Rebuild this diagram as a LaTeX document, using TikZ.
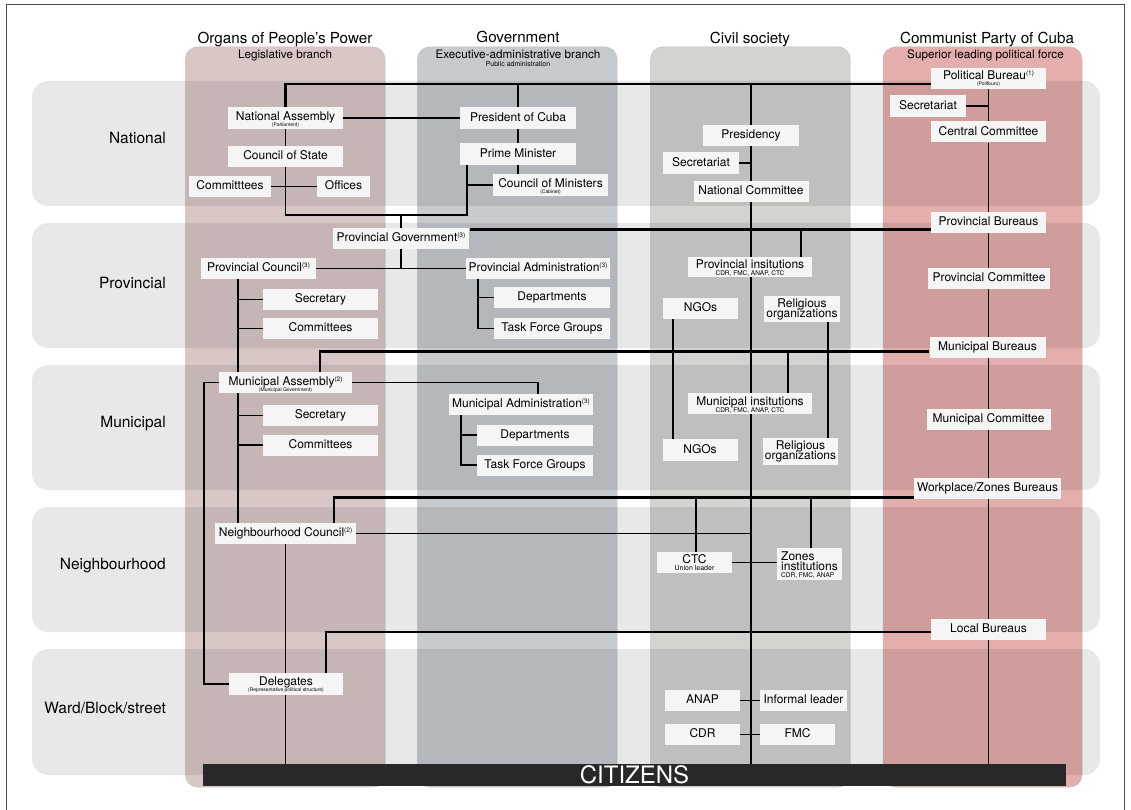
\documentclass[tikz,border=0pt]{standalone}
\usepackage{fontspec}
\setmainfont{TeX Gyre Heros}
\usetikzlibrary{calc}
\pgfdeclarelayer{back}
\pgfdeclarelayer{lines}
\pgfsetlayers{back,lines,main}
\definecolor{boxc}{HTML}{F5F5F5}
\definecolor{colA}{HTML}{D9C7C6}
\definecolor{colB}{HTML}{C6CBCF}
\definecolor{colC}{HTML}{D3D4D0}
\definecolor{colD}{HTML}{E4AEAC}
\definecolor{barc}{HTML}{282828}
\newcommand\nf{\fontsize{12}{12}\selectfont}
\newcommand\subt[1]{{\fontsize{5}{5}\selectfont #1}}
\newcommand\subm[1]{{\fontsize{6.5}{6.5}\selectfont #1}}
\newcommand\subc[1]{{\fontsize{7}{7}\selectfont #1}}
\newcommand\sups[1]{\raisebox{4.5pt}{\fontsize{6.5}{6.5}\selectfont(#1)}}
\begin{document}
\begin{tikzpicture}[x=1pt,y=-1pt,
 nb/.style 2 args={fill=boxc,inner sep=0pt,minimum width=#1,minimum height=#2,font=\nf,align=center,text height=9pt,text depth=2.5pt},
 nbb/.style 2 args={fill=boxc,inner sep=0pt,minimum width=#1,minimum height=#2,font=\nf,align=center},
 ln/.style={line width=1.2pt,black},
 thk/.style={line width=2.6pt,black},
 mid/.style={line width=2pt,black},
 hd/.style={font=\fontsize{15.2}{16}\selectfont,anchor=base,inner sep=0pt},
 sh/.style={font=\fontsize{11.7}{12}\selectfont,anchor=base,inner sep=0pt},
 rl/.style={font=\fontsize{15.5}{16}\selectfont,anchor=base east,inner sep=0pt},
 col/.style={draw=black!25,line width=0.5pt,rounded corners=12pt},
 band/.style={fill=black,fill opacity=0.09,rounded corners=16pt},
]
\useasboundingbox (0,0) rectangle (1131,810);
\draw[line width=1pt,black!70] (6,812) -- (6,5) -- (1124.5,5) -- (1124.5,812);

% headers
\node[hd] (h1) at (285,43.3) {Organs of People's Power};
\node[sh] (s1) at (285,59) {Legislative branch};
\node[hd] (h2) at (518,42.7) {Government};
\node[sh] (s2) at (518,59) {Executive-administrative branch};
\node[font=\fontsize{7}{7}\selectfont,anchor=base,inner sep=0pt] (s2b) at (518,66.5) {Public administration};
\node[hd] (h3) at (750,43.3) {Civil society};
\node[hd] (h4) at (987,43.3) {Communist Party of Cuba};
\node[sh] (s4) at (985.5,59) {Superior leading political force};

% row labels
\node[rl] (r1) at (166,143.5) {National};
\node[rl] (r2) at (166,288.5) {Provincial};
\node[rl] (r3) at (166,427.5) {Municipal};
\node[rl] (r4) at (166,569.5) {Neighbourhood};
\node[rl] (r5) at (166,713) {Ward/Block/street};

% national
\node[nbb={115pt}{22pt}] (na) at (285.5,118) {\rule{0pt}{12.5pt}National Assembly\\[-6.5pt]\subt{(Parliament)}};
\node[nb={115pt}{21pt}] (cos) at (285.5,156.5) {Council of State};
\node[nb={82pt}{21pt}] (comm) at (230,186.5) {Committtees};
\node[nb={53pt}{21pt}] (off) at (343.5,186.5) {Offices};
\node[nb={116pt}{22pt}] (pres) at (518,118) {President of Cuba};
\node[nb={116pt}{22pt}] (pm) at (518,154) {Prime Minister};
\node[nbb={115pt}{22pt}] (com) at (550.5,185) {\rule{0pt}{12pt}Council of Ministers\\[-6.5pt]\subt{(Cabinet)}};
\node[nb={96pt}{21pt}] (presid) at (751,135.5) {Presidency};
\node[nb={76pt}{22pt}] (csec) at (701,163) {Secretariat};
\node[nb={115pt}{21pt}] (ncom) at (751,191.5) {National Committee};
\node[nbb={115pt}{21pt}] (pb) at (988.5,78.5) {\rule{0pt}{10pt}Political Bureau\sups{1}\\[-6pt]\subt{(Politburo)}};
\node[nb={76pt}{22pt}] (psec) at (928,106) {Secretariat};
\node[nb={115pt}{21pt}] (cc) at (988.5,132) {Central Committee};

% provincial
\node[nb={115pt}{21pt}] (provb) at (988.5,222.5) {Provincial Bureaus};
\node[nb={136pt}{21pt}] (provgov) at (401,238.5) {Provincial Government\sups{3}};
\node[nb={115pt}{21pt}] (provc) at (258.5,268.5) {Provincial Council\sups{3}};
\node[nb={144pt}{21pt}] (provadm) at (538,268.5) {Provincial Administration\sups{3}};
\node[nb={115pt}{21pt}] (psecy) at (320.5,299.5) {Secretary};
\node[nb={115pt}{21pt}] (pcomm) at (320.5,328.5) {Committees};
\node[nb={116pt}{21pt}] (pdep) at (552,297.5) {Departments};
\node[nb={116pt}{21pt}] (ptfg) at (552,328.5) {Task Force Groups};
\node[nbb={124pt}{20pt}] (provinst) at (750,267) {\rule{0pt}{10.4pt}Provincial insitutions\\[-5.2pt]\subm{CDR, FMC, ANAP, CTC}};
\node[nb={75pt}{21pt}] (pngo) at (700.5,308.5) {NGOs};
\node[nbb={76pt}{26pt}] (prel) at (802,309) {\rule{0pt}{9.2pt}Religious\\[-2pt]organizations};
\node[nb={122pt}{21pt}] (provcom) at (989,278.5) {Provincial Committee};
\node[nb={116pt}{21pt}] (munb) at (987.5,347.5) {Municipal Bureaus};

% municipal
\node[nbb={133pt}{21pt}] (muna) at (285.5,382.5) {\rule{0pt}{13pt}Municipal Assembly\sups{2}\\[-6.5pt]\subt{(Municipal Government)}};
\node[nb={144pt}{21pt}] (munadm) at (521,404.5) {Municipal Administration\sups{3}};
\node[nb={116pt}{21pt}] (mdep) at (535,435) {Departments};
\node[nb={116pt}{21pt}] (mtfg) at (535,465) {Task Force Groups};
\node[nb={115pt}{21pt}] (msecy) at (320.5,415.5) {Secretary};
\node[nb={115pt}{21pt}] (mcomm) at (320.5,445) {Committees};
\node[nbb={124pt}{21pt}] (muninst) at (750,403.5) {\rule{0pt}{12.3pt}Municipal insitutions\\[-5.2pt]\subm{CDR, FMC, ANAP, CTC}};
\node[nb={75pt}{22pt}] (mngo) at (700,450) {NGOs};
\node[nbb={75pt}{27pt}] (mrel) at (800.5,451.5) {\rule{0pt}{9.2pt}Religious\\[-2pt]organizations};
\node[nb={124pt}{21pt}] (muncom) at (988.5,419) {Municipal Committee};
\node[nb={147pt}{21pt}] (wzb) at (987.5,488.5) {Workplace/Zones Bureaus};

% neighbourhood
\node[nb={141pt}{21pt}] (nc) at (285.5,533.5) {Neighbourhood Council\sups{2}};
\node[nbb={75pt}{21pt}] (ctc) at (694.5,562.5) {\rule{0pt}{9.2pt}CTC\\[-4.6pt]\subc{Union leader}};
\node[nbb={65pt}{32pt},align=left] (zones) at (809.5,564) {\rule{0pt}{10.7pt}Zones\\[-1.3pt]institutions\\[-5pt]\subm{CDR, FMC, ANAP}};
\node[nb={115pt}{21pt}] (locb) at (988.5,629) {Local Bureaus};

% ward
\node[nbb={114pt}{22pt}] (del) at (286,684) {\rule{0pt}{10.5pt}Delegates\\[-6pt]\subt{(Representative political structure)}};
\node[nb={75pt}{21pt}] (anap) at (702.5,700.5) {ANAP};
\node[nb={87pt}{21pt}] (inf) at (803.5,700.5) {Informal leader};
\node[nb={75pt}{21pt}] (cdr) at (702.5,734.5) {CDR};
\node[nb={75pt}{21pt}] (fmc) at (797.5,734.5) {FMC};

\node[fill=barc,minimum width=863pt,minimum height=22pt,inner sep=0pt,text=white,font=\fontsize{24}{24}\selectfont] (cit) at (634.5,775) {CITIZENS};

\begin{pgfonlayer}{back}
\draw[col,fill=colA] (185.5,47) rectangle (385,787);
\draw[col,fill=colB] (417.5,47) rectangle (617,787);
\draw[col,fill=colC] (650.5,47) rectangle (850,787);
\draw[col,fill=colD] (883,47) rectangle (1082,787);
\fill[band] (32,81) rectangle (1100,206);
\fill[band] (32,223) rectangle (1100,348);
\fill[band] (32,365) rectangle (1100,490);
\fill[band] (32,507) rectangle (1100,632);
\fill[band] (32,649) rectangle (1100,775);
\end{pgfonlayer}

\begin{pgfonlayer}{lines}
\coordinate (top) at (0,84);
\draw[thk] (na.north) |- (pb.west |- top);
\draw[thk] (pres.north) -- (pres.north |- top);
\draw[thk] (presid.north) -- (presid.north |- top);
\draw[ln] (na.east) -- (pres.west);
\draw[ln] (na.south) -- (cos.north);
\draw[ln] (comm.east) -- (off.west);
\coordinate (gv) at (467,215);
\draw[ln] (cos.south) |- (gv) -- (gv |- pm.south);
\draw[ln] (gv |- com.west) -- (com.west);
\draw[ln] (pres.south) -- (pm.north);
\draw[ln] (pm.south) -- (pm.south |- com.north);
\draw[ln] (provgov.north) -- (provgov.north |- gv);
\draw[ln] (presid.south) -- (ncom.north);
\draw[ln] (csec.east) -- (csec.east -| presid.south);
\draw[ln] (ncom.south) -- (ncom.south |- cit.north);
\draw[ln] (pb.south) -- (cc.north);
\draw[ln] (psec.east) -- (psec.east -| pb.south);
\draw[ln] (cc.south) -- (cc.south |- cit.north);
% provincial
\coordinate (pl) at (470,229.5);
\draw[thk] (pl) -- (pl -| provb.west);
\coordinate (pd) at (801,229.5);
\draw[thk] (pd) -- (pd |- provinst.north);
\draw[ln] (provc.east) -- (provadm.west);
\draw[ln] (provgov.south) -- (provgov.south |- provc.east);
\coordinate (xl) at (238,0);
\draw[ln] (provc.south -| xl) -- (nc.north -| xl);
\draw[ln] (psecy.west -| xl) -- (psecy.west);
\draw[ln] (pcomm.west -| xl) -- (pcomm.west);
\coordinate (xa) at (478,0);
\draw[ln] (provadm.south -| xa) |- (ptfg.west);
\draw[ln] (pdep.west -| xa) -- (pdep.west);
\coordinate (xn) at (673,0);
\draw[ln] (pngo.south -| xn) -- (mngo.north -| xn);
\coordinate (xr) at (828,0);
\draw[ln] (prel.south -| xr) -- (mrel.north -| xr);
% municipal
\coordinate (ml) at (320,351.5);
\draw[thk] (muna.north -| ml) |- (munb.west |- ml);
\coordinate (md) at (788,351.5);
\draw[thk] (md) -- (md |- muninst.north);
\coordinate (xma) at (538,0);
\draw[ln] (muna.east) -| (munadm.north -| xma);
\coordinate (xll) at (204,0);
\draw[ln] (muna.west) -| (xll |- del.west) -- (del.west);
\coordinate (xm) at (461,0);
\draw[ln] (munadm.south -| xm) |- (mtfg.west);
\draw[ln] (mdep.west -| xm) -- (mdep.west);
\draw[ln] (msecy.west -| xl) -- (msecy.west);
\draw[ln] (mcomm.west -| xl) -- (mcomm.west);
% neighbourhood
\coordinate (nl) at (334,497.5);
\draw[thk] (nc.north -| nl) |- (wzb.west |- nl);
\coordinate (nd1) at (696,497.5);
\draw[thk] (nd1) -- (nd1 |- ctc.north);
\coordinate (nd2) at (811,497.5);
\draw[thk] (nd2) -- (nd2 |- zones.north);
\draw[ln] (nc.east) -- (nc.east -| ncom.south);
\draw[ln] (ctc.east) -- (ctc.east -| zones.west);
\draw[ln] (nc.south) -- (nc.south |- cit.north);
\coordinate (ll) at (326,632);
\draw[mid] (del.north -| ll) |- (locb.west |- ll);
\draw[ln] (anap.east) -- (inf.west);
\draw[ln] (cdr.east) -- (fmc.west);
\end{pgfonlayer}
\end{tikzpicture}
\end{document}
